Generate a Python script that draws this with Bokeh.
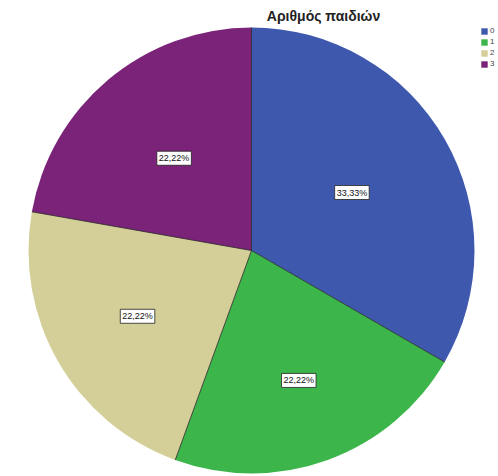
import math
from bokeh.plotting import figure
from bokeh.models import ColumnDataSource, Range1d, Label, Legend, LegendItem
from bokeh.core.properties import value
from bokeh.embed import file_html
from bokeh.resources import INLINE

title = "Αριθμός παιδιών"
categories = ["0", "1", "2", "3"]
percents = [33.33, 22.22, 22.22, 22.22]
labels = ["33,33%", "22,22%", "22,22%", "22,22%"]
colors = ["#3e58ae", "#3cb54a", "#d4cf98", "#7b2279"]
label_frac = [0.52, 0.62, 0.59, 0.54]

W, H = 498, 476
cx, cy, R = 251, H - 250, 223

p = figure(width=W, height=H, output_backend="svg", toolbar_location=None,
           x_range=Range1d(0, W), y_range=Range1d(0, H), min_border=0)
p.axis.visible = False
p.grid.visible = False
p.outline_line_color = None
p.background_fill_color = "white"

total = sum(percents)
starts, ends = [], []
a = 90.0
for v in percents:
    starts.append(math.radians(a))
    a -= v / total * 360.0
    ends.append(math.radians(a))

src = ColumnDataSource(dict(cat=categories, start=starts, end=ends, color=colors))
r = p.wedge(x=cx, y=cy, radius=R, start_angle="start", end_angle="end",
            direction="clock", fill_color="color", line_color=None, source=src)

# separator lines
xs0 = [cx] * len(starts)
ys0 = [cy] * len(starts)
xs1 = [cx + R * math.cos(s) for s in starts]
ys1 = [cy + R * math.sin(s) for s in starts]
p.segment(x0=xs0, y0=ys0, x1=xs1, y1=ys1, line_color="#222222", line_width=0.8)

# labels
mids = [(s + e) / 2 for s, e in zip(starts, ends)]
lx = [cx + f * R * math.cos(m) for f, m in zip(label_frac, mids)]
ly = [cy + f * R * math.sin(m) for f, m in zip(label_frac, mids)]
p.text(x=lx, y=ly, text=labels, text_align="center", text_baseline="middle",
       text_font=value("Liberation Sans"), text_font_size="9px", text_color="#111111",
       background_fill_color="white", border_line_color="#222222", border_line_width=0.8,
       padding=2)

p.add_layout(Label(x=323, y=H - 15, text=title, text_align="center", text_baseline="middle",
                   text_font="Liberation Sans", text_font_size="14px", text_font_style="bold",
                   text_color="#222222"))

items = [LegendItem(label=c, renderers=[r], index=i) for i, c in enumerate(categories)]
leg = Legend(items=items, location=(480, H - 68), orientation="vertical",
             label_text_font="Liberation Sans", label_text_font_size="8px",
             glyph_width=8, glyph_height=8, label_height=8, label_standoff=2,
             spacing=2, padding=0, margin=0, border_line_color=None,
             background_fill_alpha=0)
p.add_layout(leg, "center")

open("out.html", "w").write(file_html(p, INLINE))
